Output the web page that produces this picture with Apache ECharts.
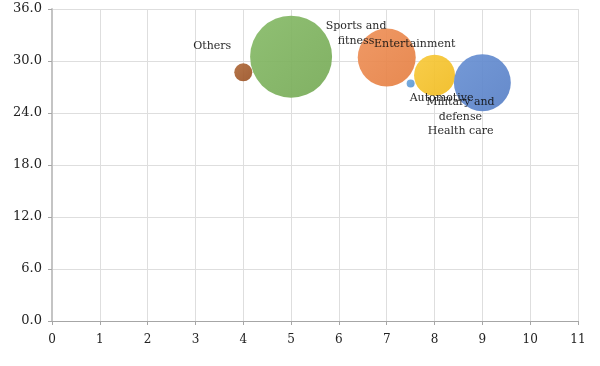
<!DOCTYPE html>
<html>
<head>
<meta charset="utf-8">
<script src="https://cdn.jsdelivr.net/npm/echarts@6/dist/echarts.min.js"></script>
<style>html,body{margin:0;padding:0;background:#fff;}#c{width:600px;height:366px;}</style>
</head>
<body>
<div id="c"></div>
<script>
// Data
var names = ["Others", "Sports and\nfitness", "Entertainment", "Health care", "Automotive", "Military and\ndefense"];
var xVals = [4, 5, 7, 7.5, 8, 9];
var yVals = [28.7, 30.5, 30.4, 27.4, 28.35, 27.5];
var sizes = [0.81, 16.8, 8.4, 0.16, 4.2, 8.1];
var xTicks = [0, 1, 2, 3, 4, 5, 6, 7, 8, 9, 10, 11];
var yTicks = [0, 6, 12, 18, 24, 30, 36];

// Styles (kept separate from data)
var colors = [
  ["#b06a3a", "#9a5226"],
  ["#86ba67", "#76aa56"],
  ["#ee9058", "#e57f42"],
  ["#6ea6dc", "#5b96d2"],
  ["#f8c93a", "#f0bb20"],
  ["#6890d3", "#5880c6"]
];
var labelOffsets = [[-31, -26], [65, -23], [28, -13], [50, 48], [7, 23], [-22, 27]];

function grad(c) {
  return new echarts.graphic.LinearGradient(0, 0, 1, 1, [
    {offset: 0, color: c[0]}, {offset: 1, color: c[1]}
  ]);
}
function symSize(s) { return 20 * Math.sqrt(s); }

var data = names.map(function (n, i) {
  var r = symSize(sizes[i]) / 2;
  return {
    name: n,
    value: [xVals[i], yVals[i], sizes[i]],
    itemStyle: {color: grad(colors[i]), opacity: 0.92},
    label: {
      show: true,
      position: [r + labelOffsets[i][0], r + labelOffsets[i][1]],
      align: 'center', verticalAlign: 'middle'
    }
  };
});

var chart = echarts.init(document.getElementById('c'), null, {renderer: 'canvas'});
chart.setOption({
  animation: false,
  backgroundColor: '#fff',
  grid: {left: 52, right: 22, top: 9, bottom: 45, containLabel: false},
  xAxis: {
    type: 'value', min: xTicks[0], max: xTicks[xTicks.length - 1], interval: 1,
    axisLine: {show: true, onZero: false, lineStyle: {color: '#a6a6a6', width: 1}},
    axisTick: {show: true, length: 4, lineStyle: {color: '#a6a6a6'}},
    axisLabel: {color: '#222', fontFamily: 'DejaVu Serif', fontSize: 12, margin: 13},
    splitLine: {show: true, lineStyle: {color: '#dedede', width: 1}}
  },
  yAxis: {
    type: 'value', min: yTicks[0], max: yTicks[yTicks.length - 1], interval: 6,
    axisLine: {show: true, onZero: false, lineStyle: {color: '#c4c4c4', width: 2}},
    axisTick: {show: true, length: 4, lineStyle: {color: '#a6a6a6'}},
    axisLabel: {color: '#222', fontFamily: 'DejaVu Serif', fontSize: 13, margin: 10,
      formatter: function (v) { return v.toFixed(1); }},
    splitLine: {show: true, lineStyle: {color: '#dedede', width: 1}}
  },
  series: [{
    type: 'scatter',
    data: data,
    symbol: 'circle',
    symbolSize: function (v) { return symSize(v[2]); },
    label: {
      show: true,
      formatter: function (p) { return p.name; },
      fontFamily: 'DejaVu Serif', fontSize: 11, color: '#111',
      lineHeight: 15, align: 'center', verticalAlign: 'middle'
    },
    labelLayout: {hideOverlap: false},
    z: 3
  }]
});
</script>
</body>
</html>
